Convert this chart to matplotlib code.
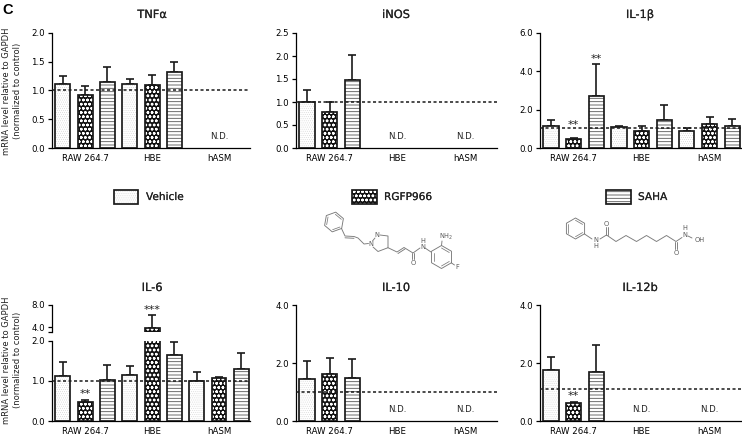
import matplotlib
matplotlib.use("Agg")
import matplotlib.pyplot as plt
import matplotlib.patheffects as pe
from matplotlib.patches import Rectangle
import numpy as np

W, H = 742, 436
group_labels = ["RAW 264.7", "HBE", "hASM"]
legend_labels = ["Vehicle", "RGFP966", "SAHA"]

tnf_mean = [1.12, 0.93, 1.15, 1.11, 1.09, 1.33]
tnf_err = [1.26, 1.08, 1.40, 1.20, 1.27, 1.49]
inos_mean = [1.01, 0.79, 1.47]
inos_err = [1.27, 1.00, 2.03]
il1_mean = [1.14, 0.49, 2.72, 1.07, 0.87, 1.47, 0.87, 1.23, 1.13]
il1_err = [1.44, 0.52, 4.37, 1.16, 1.13, 2.22, 1.04, 1.61, 1.52]
il6_mean = [1.13, 0.46, 1.01, 1.15, 3.90, 1.64, 1.00, 1.06, 1.29]
il6_err = [1.46, 0.52, 1.39, 1.37, 6.10, 1.97, 1.21, 1.09, 1.70]
il10_mean = [1.44, 1.61, 1.47]
il10_err = [2.07, 2.18, 2.13]
il12_mean = [1.75, 0.61, 1.70]
il12_err = [2.21, 0.66, 2.63]

FS = 6.2
BLACK = "#1a1a1a"
plt.rcParams["font.family"] = ["DejaVu Sans"]
plt.rcParams["text.color"] = "#222222"
plt.rcParams["axes.linewidth"] = 0.9

STYLES = [("white", "#cfcfcf", "........", 0.3),
          ("#111111", "white", "oooo", 0.7),
          ("white", "#555555", "-----", 0.6)]
BOLDISH = [pe.withStroke(linewidth=0.12, foreground="#222222")]

fig = plt.figure(figsize=(W / 100, H / 100), dpi=100, facecolor="white")


def px_axes(x0, x1, ytop, ybot):
    a = fig.add_axes([x0 / W, 1 - ybot / H, (x1 - x0) / W, (ybot - ytop) / H])
    a.patch.set_alpha(0)
    for s in ("top", "right"):
        a.spines[s].set_visible(False)
    a.tick_params(axis="y", labelsize=FS, length=3, width=0.9, pad=2)
    a.tick_params(axis="x", labelsize=FS, length=0, pad=4.5)
    return a


def styled_bar(a, x, y, w=0.67):
    """Draw one hatched bar: index modulo 3 selects the treatment."""
    face, hc, hatch, hlw = STYLES[x % 3]
    with plt.rc_context({"hatch.linewidth": hlw}):
        a.bar(x, y, w, facecolor=face, edgecolor=hc, hatch=hatch, linewidth=0, zorder=2)
    a.bar(x, y, w, facecolor="none", edgecolor=BLACK, linewidth=1.25, zorder=3)


def draw_bars(a, mean, top):
    xs = np.arange(len(mean))
    for x, m in zip(xs, mean):
        styled_bar(a, int(x), m)
    a.errorbar(xs, mean, yerr=[np.zeros(len(mean)), np.array(top) - np.array(mean)],
               fmt="none", ecolor=BLACK, elinewidth=1.2, capsize=3.2, capthick=1.2, zorder=1.5)


def finish_x(a):
    a.set_xlim(-0.485, 8.39)
    a.set_xticks([1, 4, 7], group_labels)


def nd(a, positions):
    for p in positions:
        a.annotate("N.D.", (p, 0), xytext=(0, 8), textcoords="offset points",
                   ha="center", va="center", fontsize=FS)


def ref(a, v):
    a.axhline(v, color=BLACK, lw=1.1, dashes=(2.0, 1.6), zorder=5)


def star(a, x, y, s, off):
    a.annotate(s, (x, y), xytext=(0, off), textcoords="offset points",
               ha="center", va="center", fontsize=8.2)


def title(s, xc, y):
    fig.text(xc / W, 1 - y / H, s, ha="center", va="center", fontsize=8.2, path_effects=BOLDISH)


# top row
TOP, BOT = 33, 148
a1 = px_axes(52, 250, TOP, BOT)
draw_bars(a1, tnf_mean, tnf_err)
a1.set_ylim(0, 2.0)
a1.set_yticks(np.arange(0, 2.01, 0.5), ["0.0", "0.5", "1.0", "1.5", "2.0"])
finish_x(a1); ref(a1, 1.0); nd(a1, [7])
title("TNFα", 152, 15)

a2 = px_axes(296, 497, TOP, BOT)
draw_bars(a2, inos_mean, inos_err)
a2.set_ylim(0, 2.5)
a2.set_yticks(np.arange(0, 2.51, 0.5), ["0.0", "0.5", "1.0", "1.5", "2.0", "2.5"])
finish_x(a2); ref(a2, 1.0); nd(a2, [4, 7])
title("iNOS", 396, 15)

a3 = px_axes(540, 741, TOP, BOT)
draw_bars(a3, il1_mean, il1_err)
a3.set_ylim(0, 6.0)
a3.set_yticks([0, 2, 4, 6], ["0.0", "2.0", "4.0", "6.0"])
finish_x(a3); ref(a3, 1.06)
star(a3, 1, il1_err[1], "**", 9.5)
star(a3, 2, il1_err[2], "**", 4)
title("IL-1β", 640, 15)

# bottom row
TOP2, BOT2 = 305, 421
b1 = px_axes(52, 250, 340.5, BOT2)
draw_bars(b1, il6_mean, il6_err)
b1.set_ylim(0, 2.0)
b1.set_yticks([0, 1, 2], ["0.0", "1.0", "2.0"])
finish_x(b1); ref(b1, 1.0)
star(b1, 1, il6_err[1], "**", 4.5)

b1u = px_axes(52, 250, TOP2, 332)
draw_bars(b1u, il6_mean, il6_err)
b1u.set_ylim(3.1, 8.0)
b1u.set_yticks([3.1, 4, 8], ["", "4.0", "8.0"])
b1u.spines["bottom"].set_visible(False)
b1u.set_xlim(-0.485, 8.39)
b1u.set_xticks([])
star(b1u, 4, il6_err[4], "***", 4)
title("IL-6", 152, 288)

b2 = px_axes(296, 497, TOP2, BOT2)
draw_bars(b2, il10_mean, il10_err)
b2.set_ylim(0, 4.0)
b2.set_yticks([0, 2, 4], ["0.0", "2.0", "4.0"])
finish_x(b2); ref(b2, 1.01); nd(b2, [4, 7])
title("IL-10", 396, 288)

b3 = px_axes(540, 741, TOP2, BOT2)
draw_bars(b3, il12_mean, il12_err)
b3.set_ylim(0, 4.0)
b3.set_yticks([0, 2, 4], ["0.0", "2.0", "4.0"])
finish_x(b3); ref(b3, 1.10); nd(b3, [4, 7])
star(b3, 1, il12_err[1], "**", 4)
title("IL-12b", 640, 288)

# y labels
for yc in (91, 360):
    fig.text(6.5 / W, 1 - yc / H, "mRNA level relative to GAPDH", rotation=90, ha="center", va="center", fontsize=6.0)
    fig.text(17.5 / W, 1 - yc / H, "(normalized to control)", rotation=90, ha="center", va="center", fontsize=6.0)

# overlay in pixel coordinates: panel letter, legend, structures
ov = fig.add_axes([0, 0, 1, 1], zorder=-1)
ov.set_xlim(0, W); ov.set_ylim(H, 0); ov.axis("off")
ov.text(2, 13.5, "C", fontsize=10.5, fontweight="bold", va="baseline", ha="left", color="black", family="Liberation Sans")

legend_boxes = [(113.5, 146), (352, 384), (606, 638)]
for (bx, tx), lab, st in zip(legend_boxes, legend_labels, STYLES):
    with plt.rc_context({"hatch.linewidth": st[3]}):
        ov.add_patch(Rectangle((bx, 190), 24.5, 14, facecolor=st[0], edgecolor=st[1], hatch=st[2], linewidth=0))
    ov.add_patch(Rectangle((bx, 190), 24.5, 14, facecolor="none", edgecolor=BLACK, linewidth=1.25))
    ov.text(tx, 197, lab, fontsize=7.6, va="center", ha="left", path_effects=BOLDISH)

MOL = "#7a7a7a"


def chain(pts, lw=0.65):
    ov.plot([p[0] for p in pts], [p[1] for p in pts], color=MOL, lw=lw, solid_capstyle="round")


def ring(cx, cy, r, start):
    ang = np.deg2rad(start + 60 * np.arange(7))
    px, py = cx + r * np.cos(ang), cy + r * np.sin(ang)
    chain(list(zip(px, py)))
    for i in (0, 2, 4):
        chain([(cx + 0.78 * r * np.cos(ang[i]), cy + 0.78 * r * np.sin(ang[i])),
               (cx + 0.78 * r * np.cos(ang[i + 1]), cy + 0.78 * r * np.sin(ang[i + 1]))], lw=0.55)


def atom(x, y, s, fs=4.8):
    ov.text(x, y, s, fontsize=fs, ha="center", va="center", color="#5a5a5a")


# RGFP966
ring(334, 222, 10, 40)
chain([(341.5, 228.5), (345, 236), (354, 236.5), (358, 238), (364, 244), (368.5, 243.5)])
chain([(345, 237.8), (354, 238.3)])
chain([(372.5, 241), (375, 238)])
chain([(380, 235), (388, 236), (388, 247.7), (378, 251.5), (373, 247)])
chain([(388, 247.7), (397, 252), (404, 247.5), (413, 253), (420, 248)])
chain([(398, 253.5), (405, 249)])
chain([(412, 253), (412, 259)]); chain([(414, 253), (414, 259)])
chain([(425, 248), (431, 252)])
ring(441.5, 257, 11.5, 30)
chain([(441.5, 245.5), (442, 241)])
chain([(451.5, 263), (454.5, 265)])
atom(370.7, 244, "N"); atom(376.7, 235, "N")
atom(423, 247, "N"); atom(423, 240.5, "H")
atom(413, 262.5, "O")
atom(446, 237, "NH$_2$"); atom(457, 267, "F")

# SAHA
ring(575.5, 228.5, 10.5, 30)
chain([(584.5, 234), (592, 239)])
chain([(600, 239), (606.5, 235), (616, 241.5), (626, 235.5), (636.5, 241.5), (646.5, 235.5),
       (656.5, 241.5), (666.5, 235.5), (676, 241.5), (682, 237.5)])
chain([(605.5, 235), (605.5, 227)]); chain([(607.5, 235), (607.5, 227)])
chain([(675, 241.5), (675, 249)]); chain([(677, 241.5), (677, 249)])
chain([(688, 236), (692, 238)])
atom(596, 240, "N"); atom(596, 246, "H")
atom(606.5, 223.5, "O"); atom(676, 252.5, "O")
atom(685, 234.5, "N"); atom(685, 228, "H"); atom(700, 240, "OH")

fig.savefig("out.png", dpi=100, facecolor="white")
